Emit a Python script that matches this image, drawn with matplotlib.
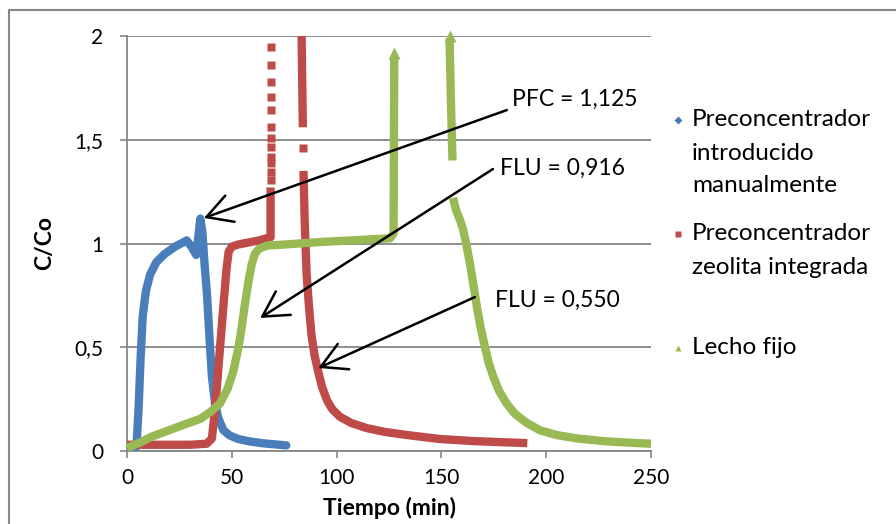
import numpy as np
import matplotlib
matplotlib.use("Agg")
import matplotlib.pyplot as plt
from matplotlib.lines import Line2D

plt.rcParams['font.family'] = ['Lato', 'DejaVu Sans']

nan = np.nan

# --- Data -------------------------------------------------------------
# Preconcentrador introducido manualmente (blue)
blue_t = [4.5, 5.5, 6.5, 7.5, 9, 11, 14, 18, 23, 28.5, 31, 33, 34, 35, 36, 37,
          38.2, 39.5, 40.5, 42, 43.5, 46, 49, 53, 58, 65, 76]
blue_c = [0.02, 0.2, 0.45, 0.65, 0.77, 0.85, 0.91, 0.95, 0.985, 1.015, 0.98,
          0.945, 1.03, 1.12, 1.05, 0.9, 0.75, 0.52, 0.36, 0.23, 0.16, 0.1,
          0.075, 0.058, 0.047, 0.037, 0.027]

# Preconcentrador zeolita integrada (red) - NaN marks gaps in the trace
red_t = [0, 10, 20, 30, 38, 40.5, 42, 44, 46, 47.5, 48.5, 50, 53, 58, 63, 68.3,
         68.5, 68.5, nan,
         83.3, 83.9, nan,
         84.2, 84.8, 85.7, 86.8, 88, 89.5, 91.3, 93, 95.4, 98, 101.6, 107,
         114.5, 123, 133.6, 149, 165, 180, 191]
red_c = [0.03, 0.03, 0.03, 0.03, 0.035, 0.06, 0.2, 0.45, 0.7, 0.88, 0.96,
         0.985, 0.995, 1.005, 1.015, 1.03, 1.03, 1.27, nan,
         2.0, 1.56, nan,
         1.35, 1.1, 0.85, 0.7, 0.56, 0.46, 0.38, 0.31, 0.245, 0.2, 0.165,
         0.135, 0.11, 0.092, 0.077, 0.058, 0.048, 0.042, 0.038]
# sparse (dotted) red points on the fast jumps
red_dot_t = [68.5, 68.5, 68.5, 68.5, 68.5, 68.5, 68.5, 68.5, 68.5, 68.5,
             68.5, 68.5, 84.1]
red_dot_c = [1.306, 1.346, 1.386, 1.418, 1.467, 1.507, 1.563, 1.643, 1.707,
             1.78, 1.86, 1.949, 1.46]

# Lecho fijo (green)
green_t = [0, 6, 12, 20, 28, 35, 40, 44.4, 48, 50.6, 53, 54.5, 56.3, 58, 59.5,
           61, 63, 66.8, 75, 92, 111, 125.5, 127.2, 127.5, nan,
           153.9, 154.5, 155.3, nan,
           155.5, 157, 159, 160.4, 162, 163.6, 165.3, 167, 168.8, 170.8, 172.7,
           174.7, 177.5, 181, 185, 190.8, 197, 205, 215, 228, 240, 250]
green_c = [0.015, 0.04, 0.07, 0.1, 0.13, 0.155, 0.19, 0.23, 0.3, 0.38, 0.49,
           0.58, 0.71, 0.82, 0.9, 0.95, 0.975, 0.99, 0.995, 1.007, 1.017,
           1.025, 1.05, 1.9, nan,
           1.99, 1.7, 1.40, nan,
           1.22, 1.16, 1.11, 1.065, 0.99, 0.905, 0.8, 0.69, 0.59, 0.5, 0.42,
           0.36, 0.29, 0.23, 0.18, 0.135, 0.1, 0.077, 0.06, 0.047, 0.04, 0.035]
green_tip_t = [127.5, 153.9]
green_tip_c = [1.92, 2.0]

series_labels = ["Preconcentrador\nintroducido\nmanualmente",
                 "Preconcentrador\nzeolita integrada",
                 "Lecho fijo"]
series_colors = ["#4A7EBB", "#BE4B48", "#98B954"]
series_markers = ["D", "s", "^"]

x_ticks = [0, 50, 100, 150, 200, 250]
y_ticks = [0, 0.5, 1, 1.5, 2]
y_tick_labels = ["0", "0,5", "1", "1,5", "2"]

# annotations: text, (tip t, tip c), (tail t, tail c)
ann_texts = ["PFC = 1,125", "FLU = 0,916", "FLU = 0,550"]
ann_tip = [(36.7, 1.123), (63.5, 0.641), (91.3, 0.40)]
ann_tail = [(181.2, 1.643), (174.6, 1.359), (166.0, 0.742)]

# --- Figure -------------------------------------------------------------
W, H = 896, 524
fig = plt.figure(figsize=(W / 100, H / 100), dpi=100)
ax = fig.add_axes([127 / W, 1 - 451 / H, (651 - 127) / W, (451 - 36) / H])

grid_col = "#868686"
lw = 6.0
ax.plot(blue_t, blue_c, color=series_colors[0], lw=lw, solid_capstyle='round',
        solid_joinstyle='round', clip_on=False, zorder=3)
ax.plot(red_t, red_c, color=series_colors[1], lw=lw, solid_capstyle='butt',
        solid_joinstyle='round', clip_on=False, zorder=4)
ax.plot(red_dot_t, red_dot_c, ls='none', marker='s', ms=5.2,
        color=series_colors[1], mec='none', clip_on=False, zorder=4)
ax.plot(green_t, green_c, color=series_colors[2], lw=lw, solid_capstyle='butt',
        solid_joinstyle='round', clip_on=False, zorder=5)
ax.plot(green_tip_t, green_tip_c, ls='none', marker='^', ms=8,
        color=series_colors[2], mec='none', clip_on=False, zorder=5)

ax.set_xlim(0, 250)
ax.set_ylim(0, 2)
ax.set_xticks(x_ticks)
ax.set_xticklabels([str(v) for v in x_ticks])
ax.set_yticks(y_ticks)
ax.set_yticklabels(y_tick_labels)
ax.tick_params(axis='both', direction='out', length=5, width=1.2,
               color=grid_col, labelsize=15, pad=7)
ax.tick_params(axis='y', pad=12)
for s in ['top', 'right']:
    ax.spines[s].set_visible(False)
for s in ['left', 'bottom']:
    ax.spines[s].set_color(grid_col)
    ax.spines[s].set_linewidth(1.3)
ax.yaxis.grid(True, color=grid_col, lw=1.3)
ax.set_axisbelow(True)

ax.set_xlabel("Tiempo (min)", fontsize=16.5, fontweight='bold', labelpad=7)
ax.set_ylabel("C/Co", fontsize=16.5, fontweight='bold', labelpad=14)

for txt, tip, tail in zip(ann_texts, ann_tip, ann_tail):
    ax.annotate("", xy=tip, xytext=tail,
                arrowprops=dict(arrowstyle='->,head_length=0.9,head_width=0.5',
                                color='black', lw=1.8, mutation_scale=20,
                                shrinkA=0, shrinkB=0), zorder=6,
                annotation_clip=False)
ann_text_px = [(512, 99), (500, 168), (495, 300)]
for txt, (px, py) in zip(ann_texts, ann_text_px):
    fig.text(px / W, 1 - py / H, txt, fontsize=16.5, va='center', ha='left')

# manual legend
leg_marker_y = [120, 234, 348]
line_gap = 33
for lab, col, mk, y0 in zip(series_labels, series_colors, series_markers,
                            leg_marker_y):
    fig.add_artist(Line2D([678 / W], [1 - y0 / H], transform=fig.transFigure,
                          marker=mk, ms=5 if mk != 'D' else 4.2, color=col,
                          mec='none', ls='none'))
    for i, line in enumerate(lab.split("\n")):
        fig.text(692 / W, 1 - (y0 + i * line_gap) / H, line, fontsize=17.5,
                 va='center', ha='left')

# outer frame (only top and left visible in the crop)
fig.add_artist(Line2D([8.5 / W, 8.5 / W, 1], [0, 1 - 9.5 / H, 1 - 9.5 / H],
                      transform=fig.transFigure, color=grid_col, lw=1.5))

fig.savefig("out.png", dpi=100)
